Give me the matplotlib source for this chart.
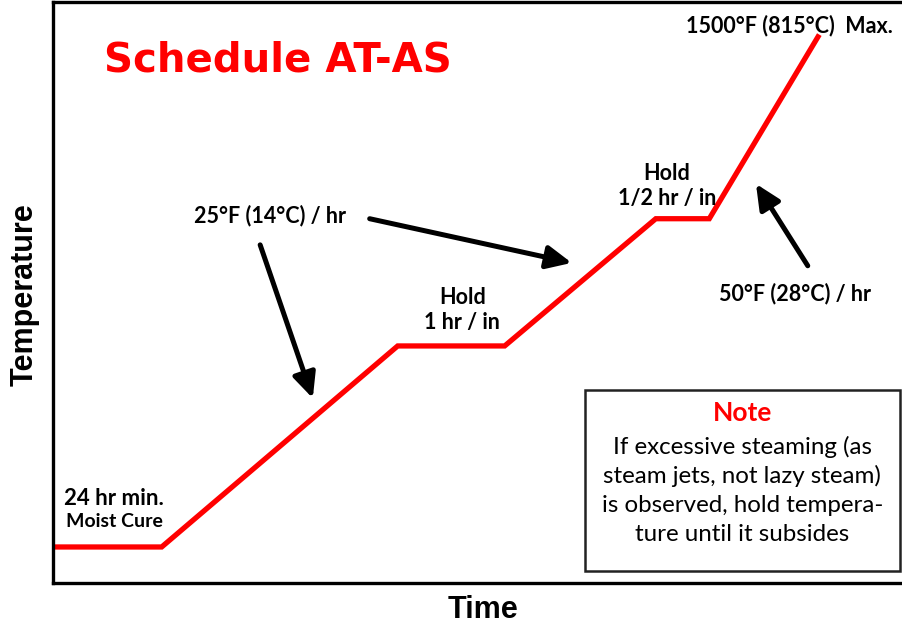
import matplotlib
matplotlib.use('Agg')
import matplotlib.pyplot as plt
from matplotlib.patches import Rectangle

# firing schedule (arbitrary units, 0-100 on both axes)
times = [0.2, 12.8, 40.6, 53.2, 71.0, 77.3, 90.1]
temps = [6.2, 6.2, 40.8, 40.8, 62.7, 62.7, 94.0]

# arrows: (tail, head)
arrows = [((24.4, 58.2), (30.6, 31.8)),
          ((37.3, 62.7), (61.1, 55.1)),
          ((88.9, 54.6), (82.8, 68.7))]

note_lines = ['If excessive steaming (as',
              'steam jets, not lazy steam)',
              'is observed, hold tempera-',
              'ture until it subsides']

ann_font = 'Lato'

fig = plt.figure(figsize=(9.02, 6.25), dpi=100)
ax = fig.add_axes([53/902, 42/625, 1 - 53/902, 581/625])
ax.set_xlim(0, 100)
ax.set_ylim(0, 100)
ax.set_xticks([])
ax.set_yticks([])
ax.spines['right'].set_visible(False)
for s in ['left', 'top', 'bottom']:
    ax.spines[s].set_linewidth(2.4)

ax.plot(times, temps, color='#ff0000', lw=3.8, solid_joinstyle='miter')

for tail, head in arrows:
    ax.annotate('', xy=head, xytext=tail,
                arrowprops=dict(arrowstyle='-|>,head_length=0.75,head_width=0.35',
                                color='black', lw=3.6, mutation_scale=20,
                                shrinkA=0, shrinkB=0))

ax.text(26.5, 90.0, 'Schedule AT-AS', color='#ff0000', fontsize=29,
        fontweight='bold', ha='center', va='center', family='DejaVu Sans')
ax.text(98.9, 95.9, '1500°F (815°C)  Max.', fontsize=15.5, fontweight='bold',
        ha='right', va='center', family=ann_font)
ax.text(25.6, 63.3, '25°F (14°C) / hr', fontsize=15.5, fontweight='bold',
        ha='center', va='center', family=ann_font)
ax.text(48.2, 47.0, 'Hold\n1 hr / in', fontsize=15.5, fontweight='bold',
        ha='center', va='center', family=ann_font, linespacing=1.2)
ax.text(72.3, 68.3, 'Hold\n1/2 hr / in', fontsize=15.5, fontweight='bold',
        ha='center', va='center', family=ann_font, linespacing=1.2)
ax.text(87.4, 49.9, '50°F (28°C) / hr', fontsize=15.5, fontweight='bold',
        ha='center', va='center', family=ann_font)
ax.text(7.2, 14.5, '24 hr min.', fontsize=16, fontweight='bold',
        ha='center', va='center', family=ann_font)
ax.text(7.2, 10.5, 'Moist Cure', fontsize=14, fontweight='bold',
        ha='center', va='center', family=ann_font)

# note box
ax.add_patch(Rectangle((62.7, 2.1), 37.1, 31.1, fill=False,
                       edgecolor='#222222', lw=1.8))
ax.text(81.2, 29.3, 'Note', color='#ff0000', fontsize=19, fontweight='bold',
        ha='center', va='center', family=ann_font)
for i, line in enumerate(note_lines):
    ax.text(81.2, 23.4 - 5.0 * i, line, fontsize=17.4, ha='center',
            va='center', family=ann_font)

fig.text(25/902, 1 - 295/625, 'Temperature', rotation=90, fontsize=22,
         fontweight='bold', ha='center', va='center', family='Liberation Sans')
fig.text(483/902, 1 - 610/625, 'Time', fontsize=22, fontweight='bold',
         ha='center', va='center', family='Liberation Sans')

fig.savefig('out.png', dpi=100)
